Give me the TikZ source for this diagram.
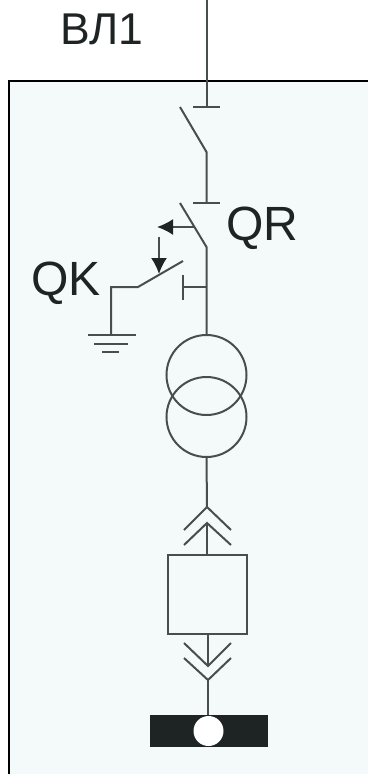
\documentclass[tikz,border=0pt]{standalone}
\usepackage{fontspec}
\setmainfont{Liberation Sans}
\usetikzlibrary{arrows.meta}
\definecolor{panelcol}{HTML}{F4FAFA}
\definecolor{wirecol}{HTML}{484D4D}
\definecolor{barcol}{HTML}{1E2424}
\tikzset{
  wire/.style={wirecol, line width=0.06cm},
  lab/.style={font=\fontsize{38}{38}\selectfont, anchor=base west, inner sep=0pt, text=barcol},
  biglab/.style={lab, font=\fontsize{41}{41}\selectfont},
  drive/.style={wire, -{Latex[length=0.48cm,width=0.48cm,color=barcol]}}
}
\begin{document}
\begin{tikzpicture}[x=0.03cm,y=-0.03cm]
\useasboundingbox (0,0) rectangle (368,774);
% panel
\fill[panelcol] (9,81) rectangle (368,774);
\draw[black, line width=0.07cm] (9,774) -- (9,81) -- (368,81);
% labels
\node[lab] (vl) at (60,44) {ВЛ1};
\node[biglab] (qr) at (226,240) {QR};
\node[biglab] (qk) at (31,295) {QK};
% points on the line
\coordinate (top) at (206.5,0);
\coordinate (t1) at (206.5,107);
\coordinate (h1) at (206.5,152);
\coordinate (t2) at (206.5,203);
\coordinate (h2) at (206.5,247);
\coordinate (j) at (206.5,287);
\coordinate (c1) at (206.5,375);
\coordinate (c2) at (206.5,417);
\node[wire, draw, circle, minimum size=2.4cm, inner sep=0pt] (tr1) at (c1) {};
\node[wire, draw, circle, minimum size=2.4cm, inner sep=0pt] (tr2) at (c2) {};
\coordinate (a1) at (207,507);
\coordinate (a2) at (207,523);
\node[wire, draw, minimum width=2.37cm, minimum height=2.37cm, inner sep=0pt] (cell) at (207.5,594.5) {};
\coordinate (a3) at (208,666);
\coordinate (a4) at (208,680);
\node[fill=barcol, minimum width=3.54cm, minimum height=0.96cm, inner sep=0pt] (bar) at (209,731) {};
\node[fill=white, circle, minimum size=0.9cm, inner sep=0pt] (hole) at (208.5,731) {};
% disconnector
\draw[wire] (top) -- (t1);
\draw[wire] (193,107) -- (220,107);
\draw[wire] (180,107) -- (h1) -- (t2);
\draw[wire] (193,203) -- (220,203);
\draw[wire] (180,203) -- (h2) -- (tr1.north);
% drives
\coordinate (d1) at (195,227);
\coordinate (d1e) at (157,227);
\coordinate (d2) at (159,237);
\coordinate (d2e) at (159,274);
\draw[drive] (d1) -- (d1e);
\draw[drive] (d2) -- (d2e);
% earthing switch
\coordinate (e1) at (183,261);
\coordinate (e2) at (138,287);
\coordinate (e3) at (111,287);
\coordinate (g) at (111,335);
\draw[wire] (e1) -- (e2) -- (e3) -- (g);
\draw[wire] (183,275) -- (183,300);
\draw[wire] (183,287) -- (j);
\draw[wire] (88,335) -- (136,335);
\draw[wire] (94,344) -- (128,344);
\draw[wire] (102,352) -- (119,352);
% cell and plugs
\draw[wire] (tr2.south) -- (a1);
\draw[wire] (184,530) -- (a1) -- (231,530);
\draw[wire] (184,545) -- (a2) -- (231,545);
\draw[wire] (a2) -- (a2 |- cell.north);
\draw[wire] (a3 |- cell.south) -- (a3);
\draw[wire] (184,643) -- (a3) -- (231,643);
\draw[wire] (184,658) -- (a4) -- (231,658);
\draw[wire] (a4) -- (a4 |- bar.north);
\end{tikzpicture}
\end{document}
